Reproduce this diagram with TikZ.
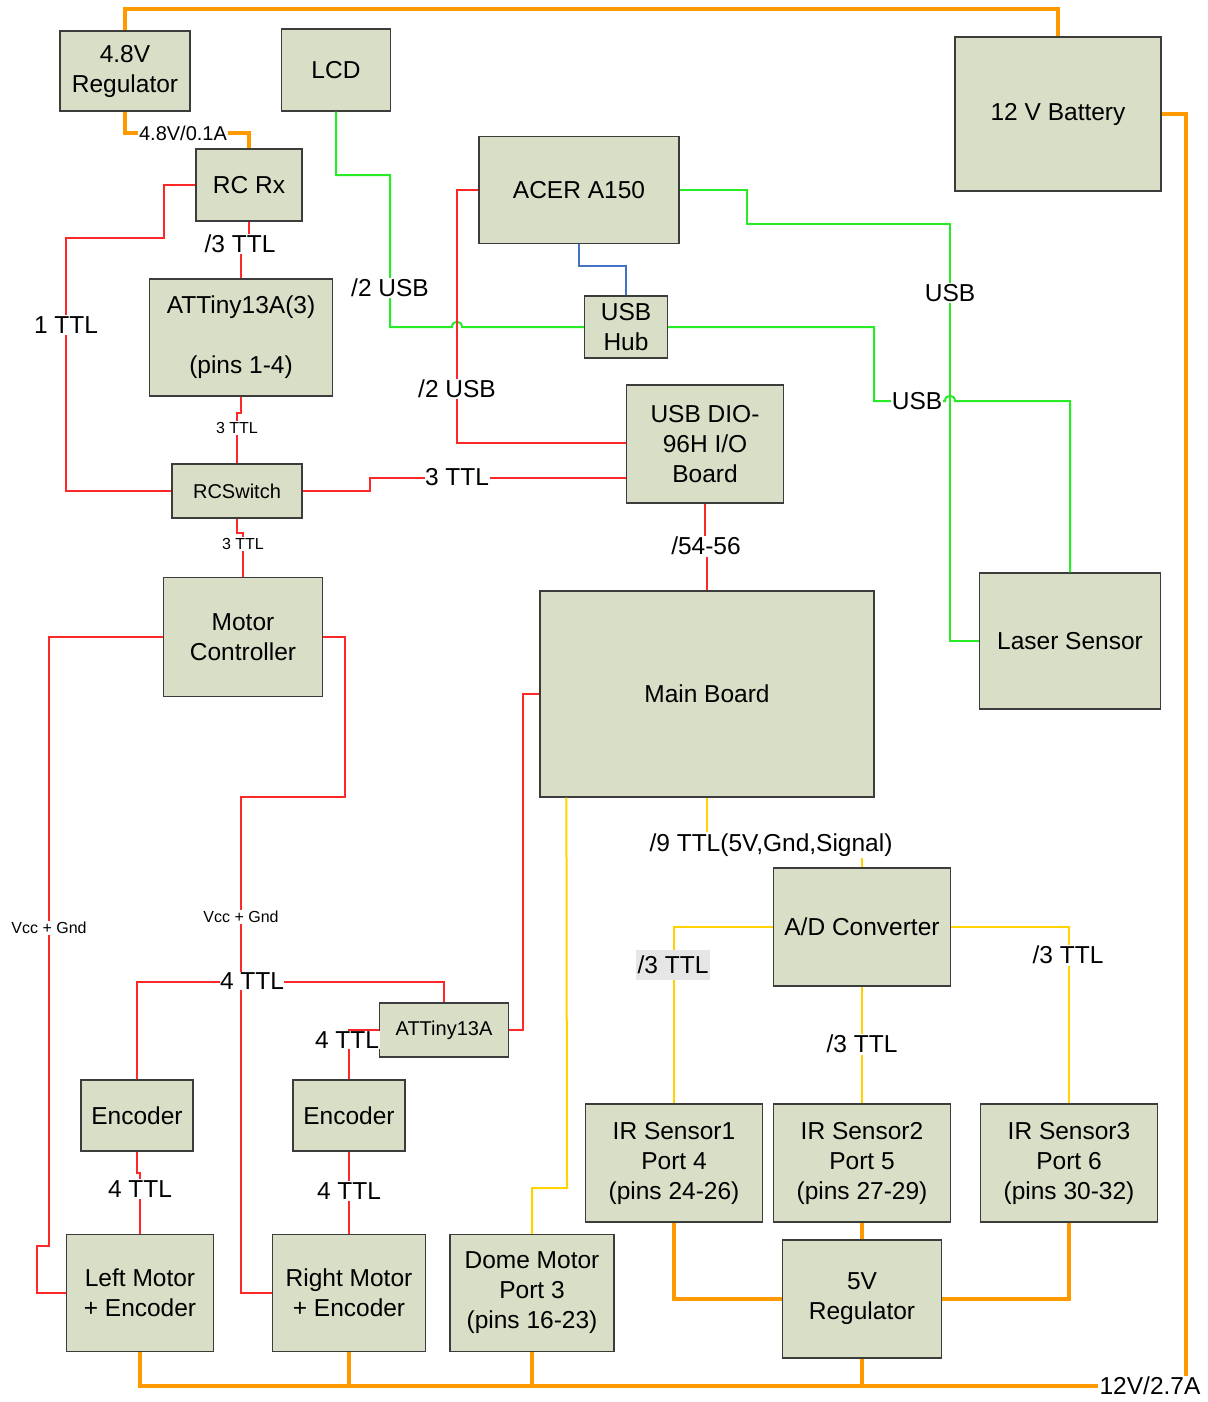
\documentclass[tikz,border=0pt]{standalone}
\usepackage{fontspec}
\setmainfont{Liberation Sans}
\definecolor{bfill}{RGB}{217,222,198}
\definecolor{bdr}{RGB}{60,60,60}
\definecolor{pwr}{RGB}{255,153,0}
\definecolor{rline}{RGB}{255,40,40}
\definecolor{gline}{RGB}{40,235,40}
\definecolor{yline}{RGB}{255,210,0}
\definecolor{bline}{RGB}{68,114,196}
\definecolor{lgray}{RGB}{230,230,230}
\begin{document}
\begin{tikzpicture}[x=1pt,y=-1pt,
  box/.style={draw=bdr, fill=bfill, line width=1.2pt, inner sep=0pt, align=center, font=\fontsize{24.5}{30}\selectfont},
  sbox/.style={box, font=\fontsize{20}{24}\selectfont},
  lbl/.style={fill=white, inner sep=1.5pt, font=\fontsize{24.5}{28}\selectfont},
  lbm/.style={fill=white, inner sep=1.5pt, font=\fontsize{20}{24}\selectfont},
  lbs/.style={fill=white, inner sep=1.5pt, font=\fontsize{16}{19}\selectfont},
  pw/.style={draw=pwr, line width=4.5pt, line join=miter},
  rw/.style={draw=rline, line width=2pt},
  gw/.style={draw=gline, line width=2pt},
  yw/.style={draw=yline, line width=2pt},
  bw/.style={draw=bline, line width=2pt}]
\useasboundingbox (0,0) rectangle (1207,1402);

% boxes
\node[box, minimum width=130pt, minimum height=80pt] (reg48) at (125,71) {4.8V\\Regulator};
\node[box, minimum width=109pt, minimum height=82pt] (lcd) at (336,70) {LCD};
\node[box, minimum width=206pt, minimum height=154pt] (batt) at (1058,114) {12 V Battery};
\node[box, minimum width=106pt, minimum height=72pt] (rcrx) at (249,185) {RC Rx};
\node[box, minimum width=200pt, minimum height=107pt] (acer) at (579,190) {ACER A150};
\node[box, minimum width=183pt, minimum height=117pt] (att3) at (241,337.5) {ATTiny13A(3)\\[30pt](pins 1-4)};
\node[box, minimum width=83pt, minimum height=62pt] (hub) at (626,327) {USB\\Hub};
\node[box, minimum width=157pt, minimum height=118pt] (dio) at (705,444) {USB DIO-\\96H I/O\\Board};
\node[sbox, minimum width=130pt, minimum height=54pt] (rcsw) at (237,491) {RCSwitch};
\node[box, minimum width=159pt, minimum height=119pt] (motc) at (243,637) {Motor\\Controller};
\node[box, minimum width=334pt, minimum height=206pt] (mainb) at (707,694) {Main Board};
\node[box, minimum width=181pt, minimum height=136pt] (laser) at (1070,641) {Laser Sensor};
\node[box, minimum width=177pt, minimum height=118pt] (adc) at (862,927) {A/D Converter};
\node[sbox, minimum width=129pt, minimum height=54pt] (att1) at (444,1030) {ATTiny13A};
\node[box, minimum width=112pt, minimum height=71pt] (encL) at (137,1115.5) {Encoder};
\node[box, minimum width=112pt, minimum height=71pt] (encR) at (349,1115.5) {Encoder};
\node[box, minimum width=177pt, minimum height=118pt] (ir1) at (674,1163) {IR Sensor1\\Port 4\\(pins 24-26)};
\node[box, minimum width=177pt, minimum height=118pt] (ir2) at (862,1163) {IR Sensor2\\Port 5\\(pins 27-29)};
\node[box, minimum width=177pt, minimum height=118pt] (ir3) at (1069,1163) {IR Sensor3\\Port 6\\(pins 30-32)};
\node[box, minimum width=147pt, minimum height=117pt] (lmot) at (140,1293) {Left Motor\\+ Encoder};
\node[box, minimum width=153pt, minimum height=117pt] (rmot) at (349,1293) {Right Motor\\+ Encoder};
\node[box, minimum width=164pt, minimum height=117pt] (dome) at (532,1293) {Dome Motor\\Port 3\\(pins 16-23)};
\node[box, minimum width=159pt, minimum height=118pt] (reg5) at (862,1299) {5V\\Regulator};

% power (orange)
\draw[pw] (reg48.north) -- (reg48.north |- 0,9) -| (batt.north);
\draw[pw] (reg48.south) -- (reg48.south |- 0,133) -| (rcrx.north);
\draw[pw] (batt.east) -- (1186,114) -- (1186,1386) -- (lmot.south |- 0,1386) -- (lmot.south);
\draw[pw] (rmot.south) -- (rmot.south |- 0,1386);
\draw[pw] (dome.south) -- (dome.south |- 0,1386);
\draw[pw] (reg5.south) -- (reg5.south |- 0,1386);
\draw[pw] (ir1.south) |- (reg5.west);
\draw[pw] (ir3.south) |- (reg5.east);
\draw[pw] (ir2.south) -- (reg5.north);

% green (USB)
\draw[gw] (lcd.south) -- (lcd.south |- 0,175) -- (390,175) -- (390,327) -- (452,327)
  .. controls (452,320) and (462,320) .. (462,327) -- (hub.west);
\draw[gw] (acer.east) -- (747,190) -- (747,224) -- (950,224) -- (950,641) -- (laser.west);
\draw[gw] (hub.east) -- (874,327) -- (874,401) -- (945,401)
  .. controls (945,394) and (955,394) .. (955,401) -| (laser.north);

% blue
\draw[bw] (acer.south) -- (acer.south |- 0,266) -| (hub.north);

% red
\draw[rw] (rcrx.west) -- (164,185) -- (164,238) -- (66,238) |- (rcsw.west);
\draw[rw] (rcrx.south) -- (rcrx.south |- 0,236) -- (241,236) -- (att3.north);
\draw[rw] (att3.south) -- (att3.south |- 0,413) -- (237,413) -- (rcsw.north);
\draw[rw] (rcsw.east) -- (370,491) -- (370,478) -- (dio.west |- 0,478);
\draw[rw] (rcsw.south) -- (rcsw.south |- 0,533) -- (243,533) -- (motc.north);
\draw[rw] (acer.west) -- (457,190) -- (457,443) -- (dio.west |- 0,443);
\draw[rw] (dio.south) -- (dio.south |- 0,546) -- (707,546) -- (mainb.north);
\draw[rw] (motc.west) -- (49,637) -- (49,1246) -- (37,1246) |- (lmot.west);
\draw[rw] (motc.east) -- (345,637) -- (345,797) -- (241,797) |- (rmot.west);
\draw[rw] (encL.north) -- (137,982) -| (att1.north);
\draw[rw] (att1.east) -- (523,1030) |- (mainb.west);
\draw[rw] (encR.north) |- (att1.west);
\draw[rw] (encL.south) -- (encL.south |- 0,1173) -- (140,1173) -- (lmot.north);
\draw[rw] (encR.south) -- (rmot.north);

% yellow
\draw[yw] (mainb.south) -- (707,845) -| (adc.north);
\draw[yw] ([xshift=27pt]mainb.south west) -- (567,1188) -- (532,1188) -- (dome.north);
\draw[yw] (adc.west) -| (ir1.north);
\draw[yw] (adc.east) -| (ir3.north);
\draw[yw] (adc.south) -- (ir2.north);

% labels
\node[lbm] (l1) at (183,133) {4.8V/0.1A};
\node[lbl] (l2) at (1150,1386) {12V/2.7A};
\node[lbl] (l3) at (390,288) {/2 USB};
\node[lbl] (l4) at (950,293) {USB};
\node[lbl, inner sep=0.5pt] (l5) at (917,401) {USB};
\node[lbl] (l6) at (66,325) {1 TTL};
\node[lbl] (l7) at (240,244) {/3 TTL};
\node[lbs] (l8) at (237,428) {3 TTL};
\node[lbl, inner sep=0.5pt] (l9) at (457,477) {3 TTL};
\node[lbs] (l10) at (243,544) {3 TTL};
\node[lbl] (l11) at (457,389) {/2 USB};
\node[lbl] (l12) at (706,546) {/54-56};
\node[lbs] (l13) at (49,928) {Vcc + Gnd};
\node[lbs] (l14) at (241,917) {Vcc + Gnd};
\node[lbl, inner sep=0.5pt] (l15) at (252,981) {4 TTL};
\node[lbl, inner sep=0.5pt] (l16) at (347,1040) {4 TTL};
\node[lbl] (l17) at (140,1189) {4 TTL};
\node[lbl] (l18) at (349,1191) {4 TTL};
\node[lbl] (l19) at (771,845) {/9 TTL(5V,Gnd,Signal)};
\node[lbl, fill=lgray, minimum height=30pt, inner sep=1.5pt] (l20) at (673,965) {/3 TTL};
\node[lbl] (l21) at (1068,955) {/3 TTL};
\node[lbl] (l22) at (862,1044) {/3 TTL};
\end{tikzpicture}
\end{document}
